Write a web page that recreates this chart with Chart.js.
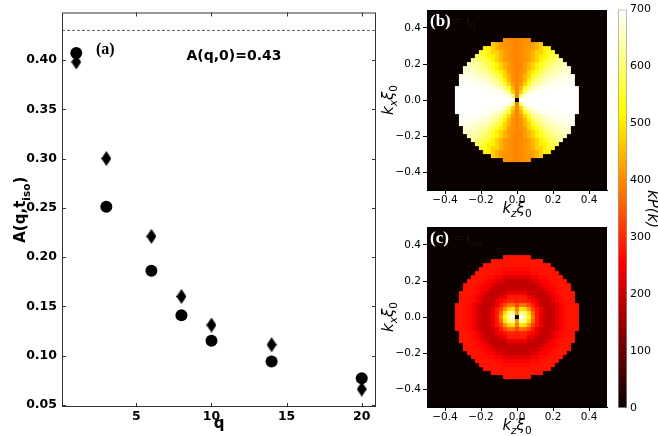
<!DOCTYPE html>
<html lang="en">
<head>
<meta charset="UTF-8">
<title>A(q,t_iso) and kP(k) maps</title>
<style>
  body { margin: 0; background: #fff; }
  #wrap { position: relative; width: 658px; height: 436px; overflow: hidden; background: #fff; }
  canvas { position: absolute; }
</style>
</head>
<body>
<div id="wrap">
  <canvas id="chartA" width="385" height="436" style="left:0px;top:0px"></canvas>
  <canvas id="chartB" width="250" height="220" style="left:370px;top:0px"></canvas>
  <canvas id="chartC" width="250" height="219" style="left:370px;top:217px"></canvas>
  <canvas id="chartCb" width="53" height="436" style="left:605px;top:0px"></canvas>
</div>
<script src="https://cdn.jsdelivr.net/npm/chart.js"></script>
<script>
// ---- panel (a) data ----
const qValues = [1, 3, 6, 8, 10, 14, 20];
const circleValues = [0.407, 0.251, 0.186, 0.141, 0.115, 0.094, 0.077];
const diamondValues = [0.398, 0.300, 0.221, 0.160, 0.131, 0.111, 0.066];
const initialLevel = 0.43;
const qTicks = [5, 10, 15, 20];
const aTicks = [0.05, 0.10, 0.15, 0.20, 0.25, 0.30, 0.35, 0.40];
const qRange = [0.05, 20.95];
const aRange = [0.0478, 0.4482];

// ---- panels (b), (c) data ----
const kTicks = [-0.4, -0.2, 0, 0.2, 0.4];
const gridHalf = 22;          // 45 x 45 cells on [-0.5, 0.5]
const cellSize = 1 / 45;
const diskR2 = 236;           // cells kept inside the disk
// (b): kP(k) by angle from the kz axis, 0..90 deg in 5 deg steps
const angleStepB = 5;
const angularB = [700, 700, 700, 698, 694, 686, 668, 655, 635, 611,
                  580, 545, 510, 475, 445, 420, 408, 400, 395];
// (c): central block (|dx|, |dy| <= 4), rows = |dy|, cols = |dx|
const coreC = [
  [0,   680, 640, 520, 390],
  [420, 640, 600, 490, 360],
  [380, 500, 480, 410, 320],
  [330, 380, 370, 335, 285],
  [285, 295, 290, 275, 255]
];
// (c): kP(k) by radius in cells, outside the central block
const radialC = [0, 620, 520, 400, 320, 280, 235, 200, 188, 198, 225, 250, 266, 275, 278, 275];

// ---- colour bar ----
const cbTicks = [0, 100, 200, 300, 400, 500, 600, 700];
const cbMax = 700;

const FONT = 'DejaVu Sans';

function hot(v) {
  const t = Math.max(0, Math.min(1, v / cbMax));
  const r = t < 0.365079 ? 0.0416 + t / 0.365079 * (1 - 0.0416) : 1;
  const g = t < 0.365079 ? 0 : t < 0.746032 ? (t - 0.365079) / (0.746032 - 0.365079) : 1;
  const b = t < 0.746032 ? 0 : (t - 0.746032) / (1 - 0.746032);
  return 'rgb(' + Math.round(r * 255) + ',' + Math.round(g * 255) + ',' + Math.round(b * 255) + ')';
}

// text made of pieces (for subscripts)
function drawParts(ctx, parts, x, y, align) {
  let w = 0;
  parts.forEach(p => { ctx.font = p[1]; w += ctx.measureText(p[0]).width; });
  let cx = align === 'center' ? x - w / 2 : x;
  parts.forEach(p => {
    ctx.font = p[1];
    ctx.fillText(p[0], cx, y + (p[2] || 0));
    cx += ctx.measureText(p[0]).width;
  });
}

// thin diamond marker: drawn large, shown at w x h
function diamondImage(w, h, k) {
  const c = document.createElement('canvas');
  c.width = w * k; c.height = h * k;
  const g = c.getContext('2d');
  g.fillStyle = '#000';
  g.beginPath();
  g.moveTo(c.width / 2, 0); g.lineTo(c.width, c.height / 2);
  g.lineTo(c.width / 2, c.height); g.lineTo(0, c.height / 2);
  g.closePath();
  g.fill();
  const img = new Image(w, h);
  img.src = c.toDataURL();
  return img;
}

const fixedTicks = list => s => { s.ticks = list.map(v => ({ value: v })); };
const kLabel = v => (v < 0 ? '\u2212' : '') + Math.abs(v).toFixed(1);

// ---------------- panel (a) ----------------
const frameA = {
  id: 'frameA',
  afterDraw(chart) {
    const { ctx, chartArea: a, scales } = chart;
    ctx.save();
    ctx.strokeStyle = '#333';
    ctx.lineWidth = 1;
    ctx.strokeRect(a.left + 0.5, a.top + 0.5, a.right - a.left - 1, a.bottom - a.top - 1);
    ctx.beginPath();
    qTicks.forEach(v => {
      const x = Math.round(scales.x.getPixelForValue(v)) + 0.5;
      ctx.moveTo(x, a.top); ctx.lineTo(x, a.top + 4);
      ctx.moveTo(x, a.bottom); ctx.lineTo(x, a.bottom - 4);
    });
    aTicks.forEach(v => {
      const y = Math.round(scales.y.getPixelForValue(v)) + 0.5;
      ctx.moveTo(a.left, y); ctx.lineTo(a.left + 4, y);
      ctx.moveTo(a.right, y); ctx.lineTo(a.right - 4, y);
    });
    ctx.stroke();

    ctx.fillStyle = '#000';
    ctx.textAlign = 'left';
    ctx.textBaseline = 'alphabetic';
    ctx.font = 'bold 16px "Liberation Serif"';
    ctx.fillText('(a)', 96, 54);
    ctx.font = 'bold 14px "' + FONT + '"';
    ctx.textAlign = 'center';
    ctx.fillText('A(q,0)=0.43', 234, 59.5);
    ctx.font = 'bold 15px "' + FONT + '"';
    ctx.fillText('q', (a.left + a.right) / 2, 428);

    ctx.textAlign = 'left';
    ctx.translate(25, (a.top + a.bottom) / 2);
    ctx.rotate(-Math.PI / 2);
    drawParts(ctx, [
      ['A(q,t', 'bold 15px "' + FONT + '"'],
      ['iso', 'bold 10.5px "' + FONT + '"', 5],
      [')', 'bold 15px "' + FONT + '"']
    ], 0, 0, 'center');
    ctx.restore();
  }
};

function drawPanelA(diamond) {
  new Chart(document.getElementById('chartA'), {
    type: 'scatter',
    data: {
      datasets: [
        {
          data: [{ x: qRange[0], y: initialLevel }, { x: qRange[1], y: initialLevel }],
          showLine: true, borderColor: '#666', borderWidth: 1, borderDash: [3, 2],
          pointRadius: 0
        },
        {
          data: qValues.map((q, i) => ({ x: q, y: circleValues[i] })),
          pointStyle: 'circle', pointRadius: 6,
          pointBackgroundColor: '#000', pointBorderColor: '#000', pointBorderWidth: 0
        },
        {
          data: qValues.map((q, i) => ({ x: q, y: diamondValues[i] })),
          pointStyle: diamond, pointRadius: 7, pointBorderWidth: 0
        }
      ]
    },
    options: {
      responsive: false,
      animation: false,
      events: [],
      layout: { padding: { top: 12, right: 9, left: 0, bottom: 0 } },
      plugins: { legend: { display: false }, tooltip: { enabled: false } },
      scales: {
        x: {
          type: 'linear', min: qRange[0], max: qRange[1],
          afterBuildTicks: fixedTicks(qTicks),
          afterFit: s => { s.height = 29; },
          grid: { display: false, drawTicks: false },
          border: { display: false },
          ticks: { padding: 2, color: '#000', font: { family: FONT, size: 12.5, weight: 'bold' } }
        },
        y: {
          min: aRange[0], max: aRange[1],
          afterBuildTicks: fixedTicks(aTicks),
          afterFit: s => { s.width = 62; },
          grid: { display: false, drawTicks: false },
          border: { display: false },
          ticks: {
            padding: 5, color: '#000', font: { family: FONT, size: 12.5, weight: 'bold' },
            callback: v => v.toFixed(2)
          }
        }
      }
    },
    plugins: [frameA]
  });
}

const diamond = diamondImage(10, 15, 4);
diamond.onload = () => drawPanelA(diamond);

// ---------------- panels (b) and (c) ----------------
function buildMap(valueAt) {
  const pts = [], colors = [];
  for (let j = -gridHalf; j <= gridHalf; j++) {
    for (let i = -gridHalf; i <= gridHalf; i++) {
      const inside = i * i + j * j <= diskR2 && (i !== 0 || j !== 0);
      pts.push({ x: i * cellSize, y: j * cellSize });
      colors.push(hot(inside ? valueAt(i, j) : 0));
    }
  }
  return { pts, colors };
}

const mapB = buildMap((i, j) => {
  const ang = Math.atan2(Math.abs(j), Math.abs(i)) * 180 / Math.PI;
  return angularB[Math.round(ang / angleStepB)];
});
const mapC = buildMap((i, j) => {
  const ai = Math.abs(i), aj = Math.abs(j);
  if (ai <= 4 && aj <= 4) return coreC[aj][ai];
  return radialC[Math.min(radialC.length - 1, Math.round(Math.hypot(i, j)))];
});

function mapLabels(tag, subText) {
  return {
    id: 'labels' + tag,
    afterDraw(chart) {
      const { ctx, chartArea: a } = chart;
      ctx.save();
      ctx.strokeStyle = '#000';
      ctx.lineWidth = 1;
      ctx.strokeRect(a.left + 0.5, a.top + 0.5, a.right - a.left - 1, a.bottom - a.top - 1);
      ctx.textAlign = 'left';
      ctx.textBaseline = 'alphabetic';
      ctx.fillStyle = '#fff';
      ctx.font = 'bold 17px "Liberation Serif"';
      ctx.fillText('(' + tag + ')', a.left + 3, a.top + 16);
      ctx.fillStyle = '#161616';
      drawParts(ctx, [
        ['= t', '15px "Liberation Serif"'],
        [subText, '10px "Liberation Serif"', 3]
      ], a.left + 27, a.top + 16, 'left');

      ctx.fillStyle = '#000';
      const it = 'italic 15px "' + FONT + '"';
      const sub = 'italic 10.5px "' + FONT + '"';
      const sub0 = '10.5px "' + FONT + '"';
      drawParts(ctx, [['k', it], ['z', sub, 3.5], ['\u03be', it], ['0', sub0, 3.5]],
        (a.left + a.right) / 2, 213, 'center');
      ctx.translate(23, (a.top + a.bottom) / 2);
      ctx.rotate(-Math.PI / 2);
      drawParts(ctx, [['k', it], ['x', sub, 3.5], ['\u03be', it], ['0', sub0, 3.5]],
        0, 0, 'center');
      ctx.restore();
    }
  };
}

function mapChart(id, map, tag, subText, bottomH) {
  return new Chart(document.getElementById(id), {
    type: 'scatter',
    data: {
      datasets: [{
        data: map.pts,
        pointStyle: 'rect',
        pointRadius: 2.95,
        pointBorderWidth: 0,
        pointBackgroundColor: map.colors
      }]
    },
    options: {
      responsive: false,
      animation: false,
      events: [],
      layout: { padding: { top: 10, right: 13, left: 0, bottom: 0 } },
      plugins: { legend: { display: false }, tooltip: { enabled: false } },
      scales: {
        x: {
          type: 'linear', min: -0.5, max: 0.5,
          afterBuildTicks: fixedTicks(kTicks),
          afterFit: s => { s.height = bottomH; },
          grid: { display: true, drawOnChartArea: false, drawTicks: true, tickLength: 4, color: '#000' },
          border: { display: true, color: '#000' },
          ticks: { padding: 0, color: '#000', font: { family: FONT, size: 10.5 }, callback: kLabel, maxRotation: 0 }
        },
        y: {
          min: -0.5, max: 0.5,
          afterBuildTicks: fixedTicks(kTicks),
          afterFit: s => { s.width = 57; },
          grid: { display: true, drawOnChartArea: false, drawTicks: true, tickLength: 4, color: '#000' },
          border: { display: true, color: '#000' },
          ticks: { padding: 2, color: '#000', font: { family: FONT, size: 10.5 }, callback: kLabel }
        }
      }
    },
    plugins: [mapLabels(tag, subText)]
  });
}

mapChart('chartB', mapB, 'b', '0', 30);
mapChart('chartC', mapC, 'c', 'iso', 29);

// ---------------- colour bar ----------------
const cbLabel = {
  id: 'cbLabel',
  afterDraw(chart) {
    const { ctx } = chart;
    ctx.save();
    ctx.fillStyle = '#000';
    ctx.textAlign = 'center';
    ctx.textBaseline = 'alphabetic';
    ctx.font = 'italic 15px "' + FONT + '"';
    ctx.translate(42.5, 209);
    ctx.rotate(Math.PI / 2);
    ctx.fillText('kP(k)', 0, 0);
    ctx.restore();
  }
};

new Chart(document.getElementById('chartCb'), {
  type: 'bar',
  data: {
    labels: ['kP(k)'],
    datasets: [{
      data: [[0, cbMax]],
      backgroundColor: c => {
        const area = c.chart.chartArea;
        if (!area) return '#000';
        const g = c.chart.ctx.createLinearGradient(0, area.bottom, 0, area.top);
        g.addColorStop(0, hot(0));
        g.addColorStop(0.365079, hot(0.365079 * cbMax));
        g.addColorStop(0.746032, hot(0.746032 * cbMax));
        g.addColorStop(1, hot(cbMax));
        return g;
      },
      borderColor: '#999',
      borderWidth: 1,
      borderSkipped: false,
      barPercentage: 1,
      categoryPercentage: 1
    }]
  },
  options: {
    responsive: false,
    animation: false,
    events: [],
    layout: { padding: { top: 9, left: 13, right: 0, bottom: 28 } },
    plugins: { legend: { display: false }, tooltip: { enabled: false } },
    scales: {
      x: { display: false },
      y: {
        position: 'right', min: 0, max: cbMax,
        afterBuildTicks: fixedTicks(cbTicks),
        afterFit: s => { s.width = 31; },
        grid: { display: false, drawTicks: false },
        border: { display: false },
        ticks: { padding: 3, color: '#000', font: { family: FONT, size: 11 } }
      }
    }
  },
  plugins: [cbLabel]
});
</script>
</body>
</html>
